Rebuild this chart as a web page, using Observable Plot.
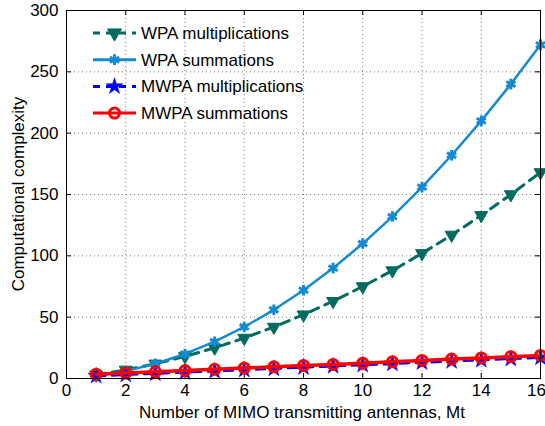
<!DOCTYPE html>
<html><head><meta charset="utf-8">
<script src="https://cdn.jsdelivr.net/npm/d3@7"></script>
<script src="https://cdn.jsdelivr.net/npm/@observablehq/plot@0.6"></script>
<style>body{margin:0;background:#fff}</style>
</head><body><div id="chart"></div>
<script>
const antennas = [1,2,3,4,5,6,7,8,9,10,11,12,13,14,15,16];
const wpaMult = [3,7,12,18,25,33,42,52,63,75,88,102,117,133,150,168];
const wpaSum = [2,6,12,20,30,42,56,72,90,110,132,156,182,210,240,272];
const mwpaMult = [2,3,4,5,6,7,8,9,10,11,12,13,14,15,16,17];
const mwpaSum = [3.5,4.5,5.5,6.5,7.5,8.5,9.5,10.5,11.5,12.5,13.6,14.7,15.8,16.8,17.8,18.8];
const xTicks = [0,2,4,6,8,10,12,14,16];
const yTicks = [0,50,100,150,200,250,300];
const seriesNames = ["WPA multiplications","WPA summations","MWPA multiplications","MWPA summations"];

const mk = vals => antennas.map((x,i)=>({x, y: vals[i]}));
const W = 545, H = 426, mL = 66, mR = 5, mT = 10, mB = 48;
const ph = H - mT - mB;
const teal = "#006b5e", lblue = "#168ad0", blue = "#0000ff", red = "#ff0000";
const font = "Liberation Sans, Arial, Helvetica, sans-serif";
const fs = 17;

const chart = Plot.plot({
  width: W, height: H, marginLeft: mL, marginRight: mR, marginTop: mT, marginBottom: mB,
  style: {fontFamily: font, fontSize: fs + "px", color: "#000", background: "#fff"},
  x: {domain: [0,16]},
  y: {domain: [0,300]},
  marks: [
    Plot.gridX(xTicks, {stroke: "#555", strokeOpacity: 0.8, strokeDasharray: "1,3"}),
    Plot.gridY(yTicks, {stroke: "#555", strokeOpacity: 0.8, strokeDasharray: "1,3"}),
    Plot.tickX(xTicks, {x: d=>d, insetTop: ph-5, stroke: "#000"}),
    Plot.tickX(xTicks, {x: d=>d, insetBottom: ph-5, stroke: "#000"}),
    Plot.tickY(yTicks, {y: d=>d, insetRight: (W-mL-mR)-5, stroke: "#000"}),
    Plot.tickY(yTicks, {y: d=>d, insetLeft: (W-mL-mR)-5, stroke: "#000"}),
    Plot.axisX(xTicks.slice(0,-1), {tickSize: 0, tickPadding: 5, fontSize: fs, label: null}),
    Plot.axisX(xTicks.slice(-1), {tickSize: 0, tickPadding: 5, fontSize: fs, label: null, dx: -4}),
    Plot.axisY(yTicks, {tickSize: 0, tickPadding: 8, fontSize: fs, label: null}),
    Plot.line(mk(wpaMult), {x:"x", y:"y", stroke: teal, strokeWidth: 3, strokeDasharray: "9,7"}),
    Plot.dot(mk(wpaMult), {x:"x", y:"y", symbol: "triangle", rotate: 180, r: 4.8, fill: teal, stroke: teal, strokeWidth: 1}),
    Plot.line(mk(wpaSum), {x:"x", y:"y", stroke: lblue, strokeWidth: 2.5}),
    Plot.dot(mk(wpaSum), {x:"x", y:"y", symbol: "asterisk", r: 5, stroke: lblue, strokeWidth: 3}),
    Plot.line(mk(mwpaMult), {x:"x", y:"y", stroke: blue, strokeWidth: 2.5, strokeDasharray: "9,7"}),
    Plot.dot(mk(mwpaMult), {x:"x", y:"y", symbol: "star", r: 5.2, fill: blue, stroke: blue, strokeWidth: 0.5}),
    Plot.line(mk(mwpaSum), {x:"x", y:"y", stroke: red, strokeWidth: 3.5}),
    Plot.dot(mk(mwpaSum), {x:"x", y:"y", symbol: "circle", r: 5, fill: "none", stroke: red, strokeWidth: 3}),
    Plot.frame({stroke: "#000", strokeWidth: 1})
  ]
});

const svg = d3.select(chart);
svg.append("text").attr("x", 302).attr("y", 418).attr("text-anchor","middle")
  .style("font-family", font).style("font-size", fs+"px").text("Number of MIMO transmitting antennas, Mt");
svg.append("text").attr("transform", `translate(24,${mT+ph/2}) rotate(-90)`).attr("text-anchor","middle")
  .style("font-family", font).style("font-size", fs+"px").text("Computational complexity");

const styles = [
  {c: teal, dash: "7,6", sym: d3.symbolTriangle, rot: 180, fill: teal, sw: 1},
  {c: lblue, dash: null, sym: d3.symbolAsterisk, rot: 0, fill: "none", sw: 3},
  {c: blue, dash: "7,6", sym: d3.symbolStar, rot: 0, fill: blue, sw: 0.5},
  {c: red, dash: null, sym: d3.symbolCircle, rot: 0, fill: "none", sw: 3}
];
const lg = svg.append("g");
seriesNames.forEach((name,i)=>{
  const y = 33 + i*26.7, s = styles[i];
  const ln = lg.append("line").attr("x1",93).attr("x2",136).attr("y1",y).attr("y2",y)
    .attr("stroke", s.c).attr("stroke-width", 3);
  if (s.dash) ln.attr("stroke-dasharray", s.dash);
  const size = i===3 ? Math.PI*25 : (i===1 ? 80 : 85);
  lg.append("path").attr("d", d3.symbol(s.sym, size)()).attr("transform", `translate(114.5,${y}) rotate(${s.rot})`)
    .attr("fill", s.fill).attr("stroke", s.c).attr("stroke-width", s.sw);
  lg.append("text").attr("x",141).attr("y",y).attr("dy","0.35em").attr("text-anchor","start")
    .style("font-family", font).style("font-size", fs+"px").text(name);
});
document.getElementById("chart").appendChild(chart);
</script>
</body></html>
